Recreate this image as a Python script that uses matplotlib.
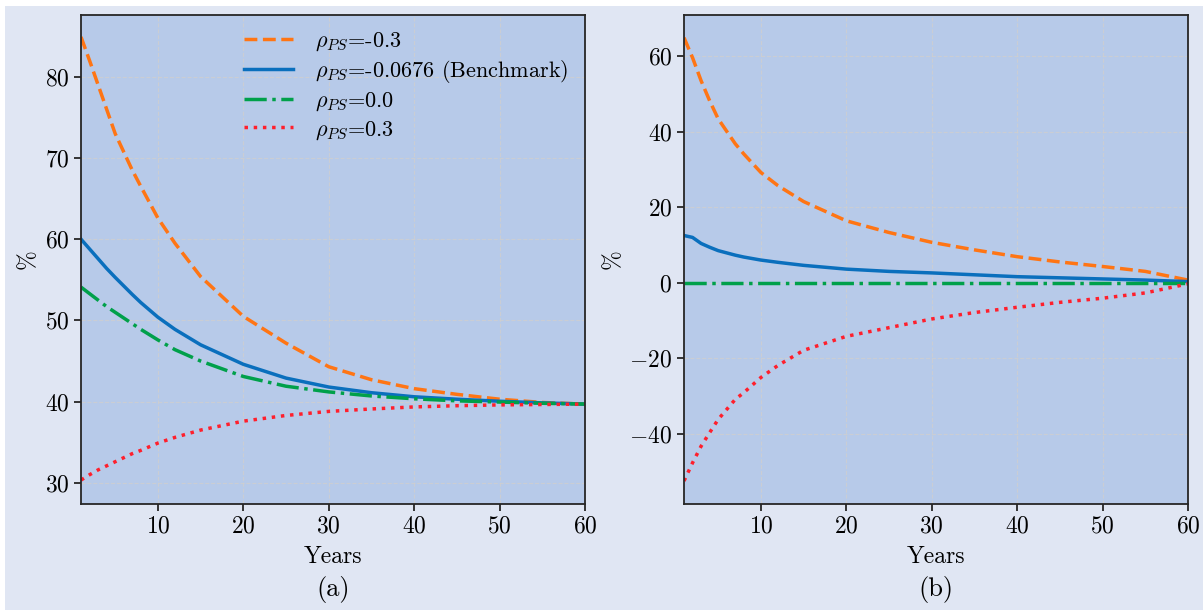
import numpy as np
import matplotlib
matplotlib.use('Agg')
import matplotlib.pyplot as plt
from matplotlib.patches import Rectangle

# fonts: computer modern look
plt.rcParams['font.family'] = 'serif'
plt.rcParams['font.serif'] = ['cmr10']
plt.rcParams['mathtext.fontset'] = 'cm'
plt.rcParams['axes.formatter.use_mathtext'] = True

# data
years = [1, 2, 3, 4, 5, 7, 8, 10, 12, 15, 20, 25, 30, 35, 40, 45, 50, 55, 60]

a_neg03 = [84.9, 82.0, 79.0, 76.0, 73.0, 68.5, 66.5, 62.6, 59.5, 55.4, 50.5, 47.2, 44.3, 42.7, 41.6, 40.9, 40.3, 39.9, 39.7]
a_bench = [60.0, 58.8, 57.6, 56.4, 55.3, 53.2, 52.2, 50.4, 48.9, 47.0, 44.6, 42.9, 41.8, 41.1, 40.6, 40.3, 40.05, 39.85, 39.7]
a_zero = [54.1, 53.3, 52.5, 51.7, 51.0, 49.6, 48.9, 47.6, 46.4, 45.0, 43.1, 41.9, 41.2, 40.7, 40.35, 40.1, 39.95, 39.8, 39.7]
a_pos03 = [30.35, 31.0, 31.6, 32.1, 32.6, 33.6, 34.0, 34.9, 35.6, 36.5, 37.6, 38.3, 38.8, 39.1, 39.35, 39.5, 39.6, 39.65, 39.7]

b_neg03 = [64.9, 59.6, 53.5, 48.2, 43.4, 36.8, 34.1, 29.2, 25.7, 21.5, 16.4, 13.3, 10.7, 8.7, 6.9, 5.5, 4.3, 3.0, 0.7]
b_bench = [12.5, 12.0, 10.4, 9.4, 8.5, 7.3, 6.8, 6.0, 5.4, 4.6, 3.6, 3.0, 2.6, 2.1, 1.6, 1.3, 1.0, 0.7, 0.3]
b_zero = [0.0] * len(years)
b_pos03 = [-52.5, -47.7, -43.3, -39.7, -36.2, -30.9, -29.1, -25.1, -21.9, -17.9, -14.2, -11.9, -9.6, -7.9, -6.5, -5.2, -4.1, -2.7, -0.3]

labels = [r'$\rho_{PS}$=-0.3', r'$\rho_{PS}$=-0.0676 (Benchmark)', r'$\rho_{PS}$=0.0', r'$\rho_{PS}$=0.3']
colors = ['#ff7514', '#0a6fbd', '#00a04a', '#ff1f2c']
styles = ['--', '-', '-.', ':']

fig = plt.figure(figsize=(12.03, 6.10), dpi=100, facecolor='white')
fig.patches.append(Rectangle((5 / 1203, 0), 1, 604 / 610, transform=fig.transFigure,
                             facecolor='#e0e6f3', edgecolor='none', zorder=-10))

ax_a = fig.add_axes([81 / 1203, 1 - 504 / 610, 504 / 1203, 489 / 610])
ax_b = fig.add_axes([684 / 1203, 1 - 504 / 610, 504 / 1203, 489 / 610])

panels = [
    (ax_a, [a_neg03, a_bench, a_zero, a_pos03], (27.4, 87.6), [30, 40, 50, 60, 70, 80], '(a)'),
    (ax_b, [b_neg03, b_bench, b_zero, b_pos03], (-58.6, 70.9), [-40, -20, 0, 20, 40, 60], '(b)'),
]

for ax, series, ylim, yticks, tag in panels:
    ax.set_facecolor('#b7cae9')
    for vals, lab, col, ls in zip(series, labels, colors, styles):
        ax.plot(years, vals, ls, color=col, lw=2.5, label=lab)
    ax.set_xlim(1, 60)
    ax.set_ylim(*ylim)
    ax.set_xticks([10, 20, 30, 40, 50, 60])
    ax.set_yticks(yticks)
    ax.grid(True, color='#cfcfcf', linestyle='--', linewidth=0.8, alpha=0.8)
    ax.set_axisbelow(True)
    for sp in ax.spines.values():
        sp.set_color('#262626')
        sp.set_linewidth(1.3)
    ax.tick_params(labelsize=17, length=5, width=1.3, color='#262626')
    ax.set_xlabel('Years', fontsize=17, labelpad=6)
    ax.set_ylabel('%', fontsize=17)
    ax.text(0.5, -0.175, tag, transform=ax.transAxes, ha='center', va='center', fontsize=19)

ax_a.legend(loc='upper center', bbox_to_anchor=(0.645, 1.01), frameon=False, fontsize=16,
            handlelength=2.2, handletextpad=1.0, labelspacing=0.25)

fig.savefig('out.png', dpi=100, facecolor=fig.get_facecolor())
